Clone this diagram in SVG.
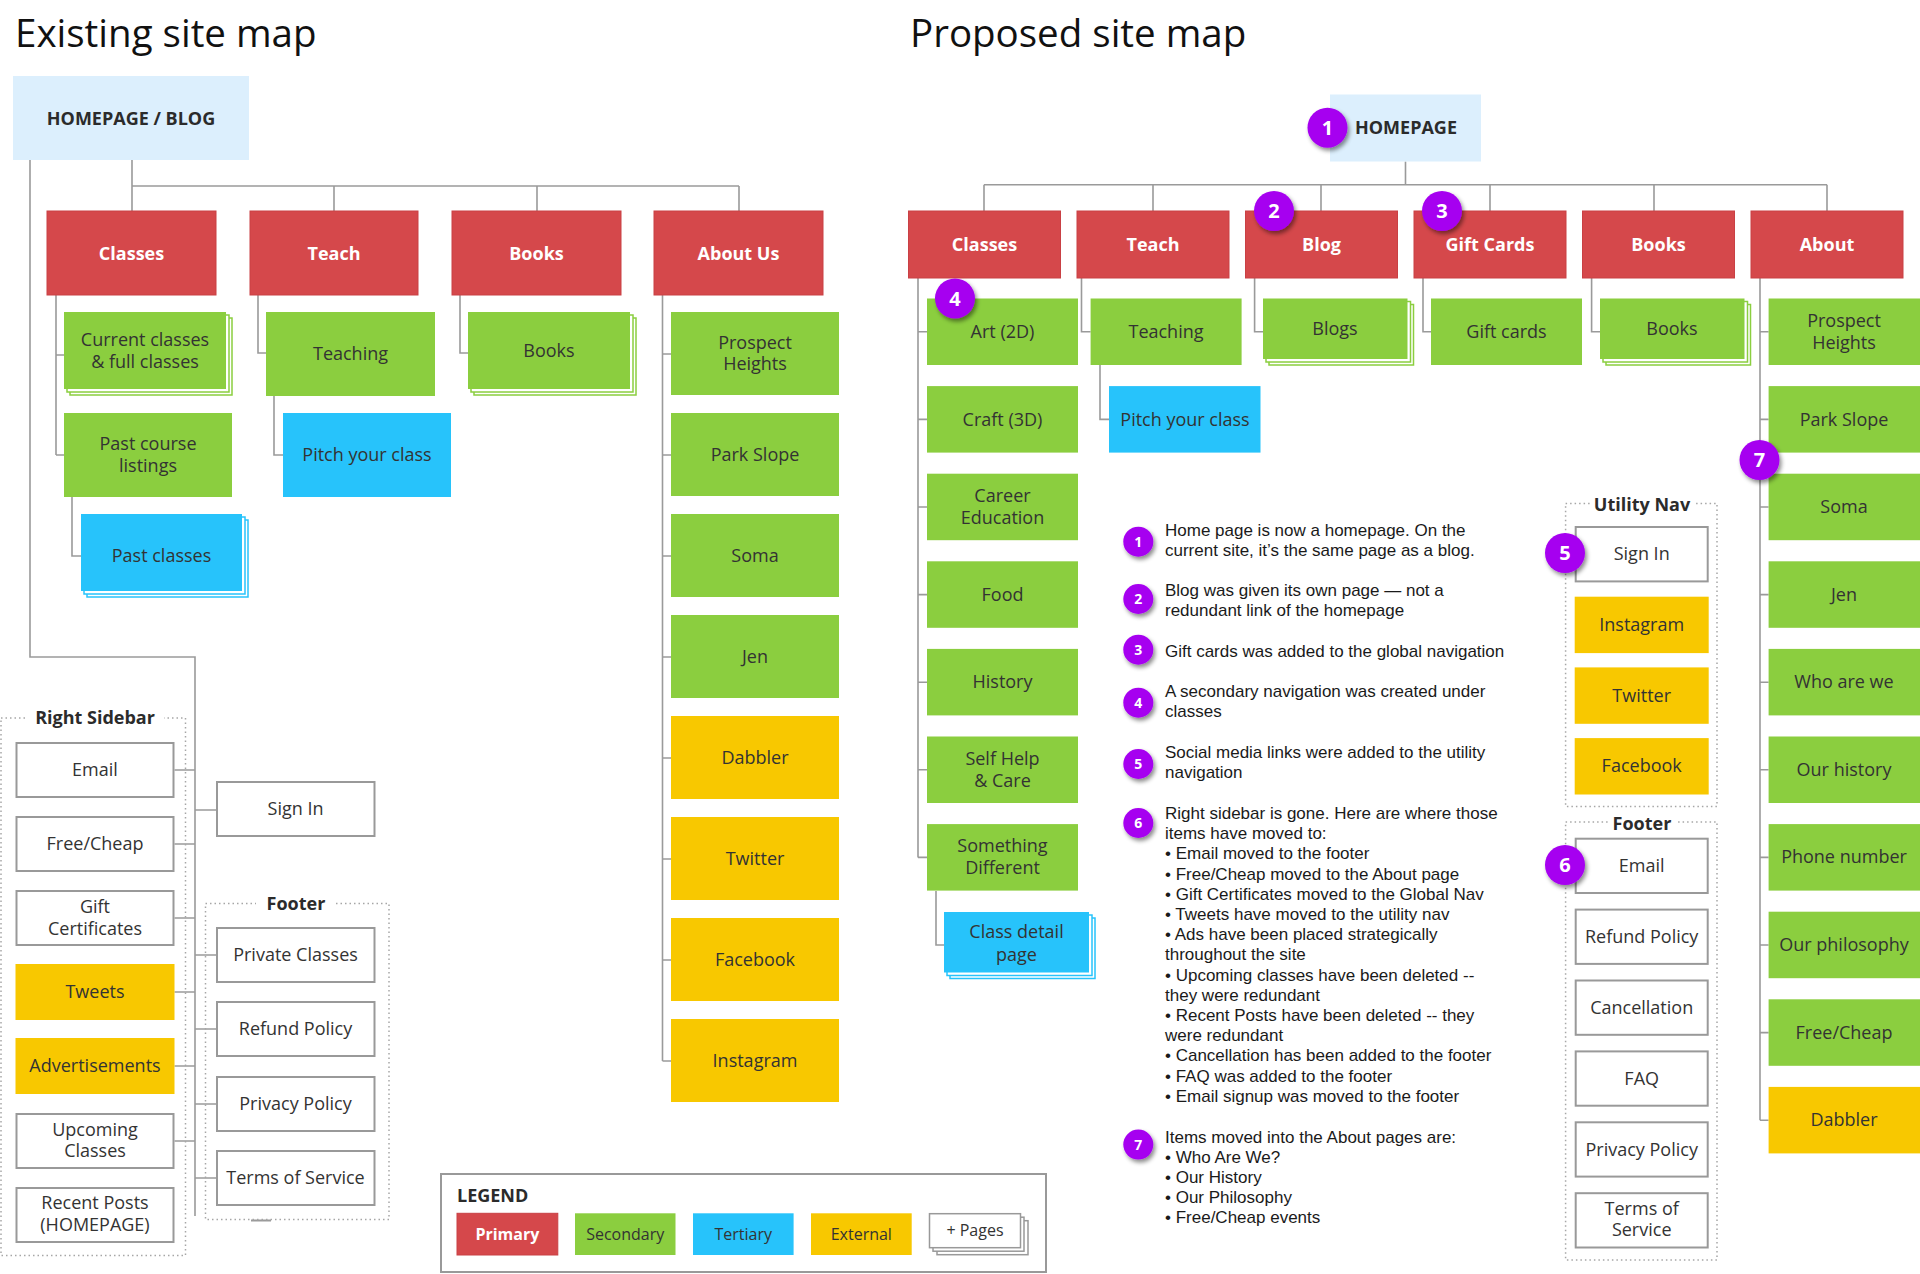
<svg xmlns="http://www.w3.org/2000/svg" width="1920" height="1274" viewBox="0 0 1920 1274">
<defs>
<style>
.ln{fill:none;stroke:#9a9a9a;stroke-width:1.6}
.dot{fill:none;stroke:#a6a6a6;stroke-width:1.5;stroke-dasharray:1.5 3}
.pri{fill:#D5484B;stroke:#c94044;stroke-width:1}
.sec{fill:#8BCE3F}
.ter{fill:#27C3FB}
.ext{fill:#F8C800}
.wht{fill:#fff;stroke:#999;stroke-width:2}
.hp{fill:#DCEFFD}
.bs{fill:#fff;stroke:#8BCE3F;stroke-width:1.5}
.bt{fill:#fff;stroke:#27C3FB;stroke-width:1.5}
.bw{fill:#fff;stroke:#999;stroke-width:1.5}
.t{font-family:'Open Sans','DejaVu Sans',sans-serif;font-size:18px;fill:#333;text-anchor:middle}
.tb{font-family:'Open Sans','DejaVu Sans',sans-serif;font-size:18px;fill:#2b2b2b;font-weight:700;text-anchor:middle}
.tw{font-family:'Open Sans','DejaVu Sans',sans-serif;font-size:18px;fill:#fff;font-weight:700;text-anchor:middle}
.lg{font-family:'Open Sans','DejaVu Sans',sans-serif;font-size:16px;fill:#333;text-anchor:middle}
.lgw{font-family:'Open Sans','DejaVu Sans',sans-serif;font-size:16px;fill:#fff;font-weight:700;text-anchor:middle}
.title{font-family:'Open Sans','DejaVu Sans',sans-serif;font-size:38.5px;fill:#111}
.note{font-family:'Liberation Sans',Arial,sans-serif;font-size:17px;fill:#1a1a1a}
.bg circle{fill:#A600F0}
.bgn{font-family:'Open Sans','DejaVu Sans',sans-serif;font-size:20px;font-weight:700;fill:#fff;text-anchor:middle}
.bgs{font-family:'Open Sans','DejaVu Sans',sans-serif;font-size:14px;font-weight:700;fill:#fff;text-anchor:middle}
</style>
<filter id="sh" x="-50%" y="-50%" width="200%" height="200%">
<feDropShadow dx="2" dy="3" stdDeviation="2" flood-color="#000" flood-opacity="0.45"/>
</filter>
</defs>
<rect width="1920" height="1274" fill="#fff"/>

<text class="title" x="15" y="47">Existing site map</text>
<text class="title" x="910" y="47">Proposed site map</text>

<!-- ================= CONNECTORS ================= -->
<g id="connectors">
<!-- existing -->
<path class="ln" d="M132 160V186M132 186H739M132 186V211M334 186V211M537 186V211M739 186V211"/>
<path class="ln" d="M30 160V657H195V1216"/>
<path class="ln" d="M56 295V455M56 355H64M56 455H64M72 497V556H81"/>
<path class="ln" d="M258 295V353H266M274 396V455H283"/>
<path class="ln" d="M460 295V353H468"/>
<path class="ln" d="M662.5 295V1061M662.5 354H671M662.5 455H671M662.5 556H671M662.5 657H671M662.5 758H671M662.5 859H671M662.5 960H671M662.5 1061H671"/>
<path class="ln" d="M174.5 770H195M174.5 844H195M174.5 918H195M174.5 992H195M174.5 1066H195M174.5 1141H195"/>
<path class="ln" d="M195 810H216M195 955H216M195 1029H216M195 1104H216M195 1178H216"/>
<path d="M251 1220.5H271" stroke="#9a9a9a" stroke-width="2"/>
<!-- proposed -->
<path class="ln" d="M1405.5 161.5V184.7M984 184.7H1827M984 184.7V211M1153 184.7V211M1321 184.7V211M1490 184.7V211M1654 184.7V211M1827 184.7V211"/>
<path class="ln" d="M918 278V857.4M918 331.8H927M918 419.4H927M918 507H927M918 594.6H927M918 682.2H927M918 769.8H927M918 857.4H927"/>
<path class="ln" d="M936 891V945H944"/>
<path class="ln" d="M1081.5 278V331.8H1090.6M1100 365V419.4H1109"/>
<path class="ln" d="M1254.6 278V331.8H1263"/>
<path class="ln" d="M1423 278V331.8H1431"/>
<path class="ln" d="M1591.6 278V331.8H1600"/>
<path class="ln" d="M1760 278V1120.2M1760 331.8H1768.6M1760 419.4H1768.6M1760 507H1768.6M1760 594.6H1768.6M1760 682.2H1768.6M1760 769.8H1768.6M1760 857.4H1768.6M1760 945H1768.6M1760 1032.6H1768.6M1760 1120.2H1768.6"/>
</g>

<!-- ================= EXISTING ================= -->
<g id="ex-home"><rect class="hp" x="13" y="76" width="236" height="84"/><text class="tb" x="131" y="124.5">HOMEPAGE / BLOG</text></g>

<g id="ex-classes"><rect class="pri" x="47" y="211" width="169" height="84"/><text class="tw" x="131.5" y="259.5">Classes</text></g>
<g id="ex-teach"><rect class="pri" x="250" y="211" width="168" height="84"/><text class="tw" x="334" y="259.5">Teach</text></g>
<g id="ex-books"><rect class="pri" x="452" y="211" width="169" height="84"/><text class="tw" x="536.5" y="259.5">Books</text></g>
<g id="ex-about"><rect class="pri" x="654" y="211" width="169" height="84"/><text class="tw" x="738.5" y="259.5">About Us</text></g>

<g id="ex-current"><rect class="bs" x="70" y="318" width="162" height="77"/><rect class="bs" x="67" y="315" width="162" height="77"/><rect class="sec" x="64" y="312" width="162" height="77"/><text class="t" x="145" y="345.5">Current classes</text><text class="t" x="145" y="367.5">&amp; full classes</text></g>
<g id="ex-pastcourse"><rect class="sec" x="64" y="413" width="168" height="84"/><text class="t" x="148" y="450">Past course</text><text class="t" x="148" y="471.5">listings</text></g>
<g id="ex-pastclasses"><rect class="bt" x="87" y="520" width="161" height="77"/><rect class="bt" x="84" y="517" width="161" height="77"/><rect class="ter" x="81" y="514" width="161" height="77"/><text class="t" x="161.5" y="562">Past classes</text></g>

<g id="ex-teaching"><rect class="sec" x="266" y="312" width="169" height="84"/><text class="t" x="350.5" y="360">Teaching</text></g>
<g id="ex-pitch"><rect class="ter" x="283" y="413" width="168" height="84"/><text class="t" x="367" y="461">Pitch your class</text></g>

<g id="ex-books2"><rect class="bs" x="474" y="318" width="162" height="77"/><rect class="bs" x="471" y="315" width="162" height="77"/><rect class="sec" x="468" y="312" width="162" height="77"/><text class="t" x="549" y="357">Books</text></g>

<g id="ex-prospect"><rect class="sec" x="671" y="312" width="168" height="83"/><text class="t" x="755" y="348.5">Prospect</text><text class="t" x="755" y="370">Heights</text></g>
<g id="ex-park"><rect class="sec" x="671" y="413" width="168" height="83"/><text class="t" x="755" y="460.5">Park Slope</text></g>
<g id="ex-soma"><rect class="sec" x="671" y="514" width="168" height="83"/><text class="t" x="755" y="561.5">Soma</text></g>
<g id="ex-jen"><rect class="sec" x="671" y="615" width="168" height="83"/><text class="t" x="755" y="662.5">Jen</text></g>
<g id="ex-dabbler"><rect class="ext" x="671" y="716" width="168" height="83"/><text class="t" x="755" y="763.5">Dabbler</text></g>
<g id="ex-twitter"><rect class="ext" x="671" y="817" width="168" height="83"/><text class="t" x="755" y="864.5">Twitter</text></g>
<g id="ex-facebook"><rect class="ext" x="671" y="918" width="168" height="83"/><text class="t" x="755" y="965.5">Facebook</text></g>
<g id="ex-instagram"><rect class="ext" x="671" y="1019" width="168" height="83"/><text class="t" x="755" y="1066.5">Instagram</text></g>

<g id="ex-sidebar">
<rect class="dot" x="1" y="718" width="184.5" height="537.5"/>
<rect x="26" y="706" width="138" height="24" fill="#fff"/>
<text class="tb" x="95" y="723.5">Right Sidebar</text>
</g>
<g id="ex-email"><rect class="wht" x="16.5" y="743" width="157" height="54"/><text class="t" x="95" y="776">Email</text></g>
<g id="ex-free"><rect class="wht" x="16.5" y="817" width="157" height="54"/><text class="t" x="95" y="850">Free/Cheap</text></g>
<g id="ex-gift"><rect class="wht" x="16.5" y="891" width="157" height="54"/><text class="t" x="95" y="913">Gift</text><text class="t" x="95" y="934.5">Certificates</text></g>
<g id="ex-tweets"><rect class="ext" x="15.5" y="964" width="159" height="56"/><text class="t" x="95" y="998">Tweets</text></g>
<g id="ex-ads"><rect class="ext" x="15.5" y="1038" width="159" height="56"/><text class="t" x="95" y="1072">Advertisements</text></g>
<g id="ex-upcoming"><rect class="wht" x="16.5" y="1114" width="157" height="54"/><text class="t" x="95" y="1135.5">Upcoming</text><text class="t" x="95" y="1157">Classes</text></g>
<g id="ex-recent"><rect class="wht" x="16.5" y="1188" width="157" height="54"/><text class="t" x="95" y="1209">Recent Posts</text><text class="t" x="95" y="1230.5">(HOMEPAGE)</text></g>

<g id="ex-signin"><rect class="wht" x="217" y="782" width="157.5" height="54"/><text class="t" x="295.5" y="815">Sign In</text></g>

<g id="ex-footer">
<rect class="dot" x="205.5" y="903.5" width="183.5" height="316"/>
<rect x="256" y="892" width="80" height="24" fill="#fff"/>
<text class="tb" x="296" y="909.5">Footer</text>
</g>
<g id="ex-private"><rect class="wht" x="217" y="928" width="157.5" height="54"/><text class="t" x="295.5" y="961">Private Classes</text></g>
<g id="ex-refund"><rect class="wht" x="217" y="1002" width="157.5" height="54"/><text class="t" x="295.5" y="1035">Refund Policy</text></g>
<g id="ex-privacy"><rect class="wht" x="217" y="1077" width="157.5" height="54"/><text class="t" x="295.5" y="1110">Privacy Policy</text></g>
<g id="ex-terms"><rect class="wht" x="217" y="1151" width="157.5" height="54"/><text class="t" x="295.5" y="1184">Terms of Service</text></g>

<!-- ================= LEGEND ================= -->
<g id="legend">
<rect x="441" y="1174" width="605" height="98" fill="#fff" stroke="#999" stroke-width="2"/>
<text class="tb" x="457" y="1201.5" style="text-anchor:start">LEGEND</text>
<rect class="pri" x="457" y="1213.3" width="100.8" height="41.7"/><text class="lgw" x="507.4" y="1240">Primary</text>
<rect class="sec" x="575" y="1213.3" width="100.5" height="41.7"/><text class="lg" x="625.2" y="1240">Secondary</text>
<rect class="ter" x="693" y="1213.3" width="100.6" height="41.7"/><text class="lg" x="743.3" y="1240">Tertiary</text>
<rect class="ext" x="811" y="1213.3" width="100.7" height="41.7"/><text class="lg" x="861.3" y="1240">External</text>
<rect class="bw" x="937" y="1220.7" width="91" height="34"/>
<rect class="bw" x="933" y="1217.2" width="91" height="34"/>
<rect class="bw" x="929.5" y="1213.7" width="91" height="34"/>
<text class="lg" x="975" y="1236">+ Pages</text>
</g>

<!-- ================= PROPOSED ================= -->
<g id="pr-home"><rect class="hp" x="1330" y="94.5" width="151" height="67"/><text class="tb" x="1406" y="134">HOMEPAGE</text></g>

<g id="pr-classes"><rect class="pri" x="908.5" y="211" width="152" height="67"/><text class="tw" x="984.5" y="251">Classes</text></g>
<g id="pr-teach"><rect class="pri" x="1077" y="211" width="152" height="67"/><text class="tw" x="1153" y="251">Teach</text></g>
<g id="pr-blog"><rect class="pri" x="1245.5" y="211" width="152" height="67"/><text class="tw" x="1321.5" y="251">Blog</text></g>
<g id="pr-gift"><rect class="pri" x="1414" y="211" width="152" height="67"/><text class="tw" x="1490" y="251">Gift Cards</text></g>
<g id="pr-books"><rect class="pri" x="1582.5" y="211" width="152" height="67"/><text class="tw" x="1658.5" y="251">Books</text></g>
<g id="pr-about"><rect class="pri" x="1751" y="211" width="152" height="67"/><text class="tw" x="1827" y="251">About</text></g>

<g id="pr-art"><rect class="sec" x="927" y="298.5" width="151" height="66.5"/><text class="t" x="1002.5" y="338">Art (2D)</text></g>
<g id="pr-craft"><rect class="sec" x="927" y="386.1" width="151" height="66.5"/><text class="t" x="1002.5" y="425.5">Craft (3D)</text></g>
<g id="pr-career"><rect class="sec" x="927" y="473.7" width="151" height="66.5"/><text class="t" x="1002.5" y="502">Career</text><text class="t" x="1002.5" y="524">Education</text></g>
<g id="pr-food"><rect class="sec" x="927" y="561.3" width="151" height="66.5"/><text class="t" x="1002.5" y="600.5">Food</text></g>
<g id="pr-history"><rect class="sec" x="927" y="648.9" width="151" height="66.5"/><text class="t" x="1002.5" y="688">History</text></g>
<g id="pr-selfhelp"><rect class="sec" x="927" y="736.5" width="151" height="66.5"/><text class="t" x="1002.5" y="764.8">Self Help</text><text class="t" x="1002.5" y="786.8">&amp; Care</text></g>
<g id="pr-something"><rect class="sec" x="927" y="824.1" width="151" height="66.5"/><text class="t" x="1002.5" y="852.4">Something</text><text class="t" x="1002.5" y="874.4">Different</text></g>
<g id="pr-classdetail"><rect class="bt" x="950" y="918" width="145" height="60.5"/><rect class="bt" x="947" y="915" width="145" height="60.5"/><rect class="ter" x="944" y="912" width="145" height="60.5"/><text class="t" x="1016.5" y="938">Class detail</text><text class="t" x="1016.5" y="961">page</text></g>

<g id="pr-teaching"><rect class="sec" x="1090.6" y="298.5" width="151" height="66.5"/><text class="t" x="1166" y="338">Teaching</text></g>
<g id="pr-pitch"><rect class="ter" x="1109" y="386.1" width="151.5" height="66.5"/><text class="t" x="1185" y="425.5">Pitch your class</text></g>

<g id="pr-blogs"><rect class="bs" x="1269" y="304.5" width="144.5" height="60.5"/><rect class="bs" x="1266" y="301.5" width="144.5" height="60.5"/><rect class="sec" x="1263" y="298.5" width="144.5" height="60.5"/><text class="t" x="1335" y="335">Blogs</text></g>
<g id="pr-giftcards"><rect class="sec" x="1431" y="298.5" width="151" height="66.5"/><text class="t" x="1506.5" y="338">Gift cards</text></g>
<g id="pr-books2"><rect class="bs" x="1606" y="304.5" width="144.5" height="60.5"/><rect class="bs" x="1603" y="301.5" width="144.5" height="60.5"/><rect class="sec" x="1600" y="298.5" width="144.5" height="60.5"/><text class="t" x="1672" y="335">Books</text></g>

<g id="pr-prospect"><rect class="sec" x="1768.6" y="298.5" width="151.4" height="66.5"/><text class="t" x="1844" y="326.8">Prospect</text><text class="t" x="1844" y="348.8">Heights</text></g>
<g id="pr-park"><rect class="sec" x="1768.6" y="386.1" width="151.4" height="66.5"/><text class="t" x="1844" y="425.5">Park Slope</text></g>
<g id="pr-soma"><rect class="sec" x="1768.6" y="473.7" width="151.4" height="66.5"/><text class="t" x="1844" y="513">Soma</text></g>
<g id="pr-jen"><rect class="sec" x="1768.6" y="561.3" width="151.4" height="66.5"/><text class="t" x="1844" y="600.5">Jen</text></g>
<g id="pr-who"><rect class="sec" x="1768.6" y="648.9" width="151.4" height="66.5"/><text class="t" x="1844" y="688">Who are we</text></g>
<g id="pr-ourhistory"><rect class="sec" x="1768.6" y="736.5" width="151.4" height="66.5"/><text class="t" x="1844" y="775.8">Our history</text></g>
<g id="pr-phone"><rect class="sec" x="1768.6" y="824.1" width="151.4" height="66.5"/><text class="t" x="1844" y="863.4">Phone number</text></g>
<g id="pr-philosophy"><rect class="sec" x="1768.6" y="911.7" width="151.4" height="66.5"/><text class="t" x="1844" y="951">Our philosophy</text></g>
<g id="pr-freecheap"><rect class="sec" x="1768.6" y="999.3" width="151.4" height="66.5"/><text class="t" x="1844" y="1038.5">Free/Cheap</text></g>
<g id="pr-dabbler"><rect class="ext" x="1768.6" y="1086.9" width="151.4" height="66.5"/><text class="t" x="1844" y="1126">Dabbler</text></g>

<g id="pr-utility">
<rect class="dot" x="1565.6" y="503.4" width="151.4" height="303"/>
<rect x="1590" y="492" width="104" height="24" fill="#fff"/>
<text class="tb" x="1642" y="510.5">Utility Nav</text>
</g>
<g id="pr-signin"><rect class="wht" x="1575.7" y="527" width="132" height="54.4"/><text class="t" x="1641.7" y="560.2">Sign In</text></g>
<g id="pr-instagram"><rect class="ext" x="1574.7" y="596.7" width="134" height="56.4"/><text class="t" x="1641.7" y="630.9">Instagram</text></g>
<g id="pr-twitter"><rect class="ext" x="1574.7" y="667.4" width="134" height="56.4"/><text class="t" x="1641.7" y="701.6">Twitter</text></g>
<g id="pr-facebook"><rect class="ext" x="1574.7" y="738.1" width="134" height="56.4"/><text class="t" x="1641.7" y="772.3">Facebook</text></g>

<g id="pr-footer">
<rect class="dot" x="1565.6" y="822" width="151.4" height="438"/>
<rect x="1608" y="810" width="68" height="24" fill="#fff"/>
<text class="tb" x="1642" y="829.5">Footer</text>
</g>
<g id="pr-email"><rect class="wht" x="1575.7" y="838.7" width="132" height="54.3"/><text class="t" x="1641.7" y="871.9">Email</text></g>
<g id="pr-refund"><rect class="wht" x="1575.7" y="909.6" width="132" height="54.3"/><text class="t" x="1641.7" y="942.8">Refund Policy</text></g>
<g id="pr-cancel"><rect class="wht" x="1575.7" y="980.5" width="132" height="54.3"/><text class="t" x="1641.7" y="1013.7">Cancellation</text></g>
<g id="pr-faq"><rect class="wht" x="1575.7" y="1051.4" width="132" height="54.3"/><text class="t" x="1641.7" y="1084.6">FAQ</text></g>
<g id="pr-privacy"><rect class="wht" x="1575.7" y="1122.3" width="132" height="54.3"/><text class="t" x="1641.7" y="1155.5">Privacy Policy</text></g>
<g id="pr-terms"><rect class="wht" x="1575.7" y="1193.2" width="132" height="54.3"/><text class="t" x="1641.7" y="1215">Terms of</text><text class="t" x="1641.7" y="1236">Service</text></g>

<!-- badges on diagram -->
<g id="badge-1" class="bg"><circle cx="1327.5" cy="127.7" r="20" filter="url(#sh)"/><text class="bgn" x="1327.5" y="134.7">1</text></g>
<g id="badge-2" class="bg"><circle cx="1274" cy="211" r="20" filter="url(#sh)"/><text class="bgn" x="1274" y="218">2</text></g>
<g id="badge-3" class="bg"><circle cx="1442" cy="211" r="20" filter="url(#sh)"/><text class="bgn" x="1442" y="218">3</text></g>
<g id="badge-4" class="bg"><circle cx="955" cy="298.5" r="20" filter="url(#sh)"/><text class="bgn" x="955" y="305.5">4</text></g>
<g id="badge-5" class="bg"><circle cx="1565" cy="553" r="20" filter="url(#sh)"/><text class="bgn" x="1565" y="560">5</text></g>
<g id="badge-6" class="bg"><circle cx="1565" cy="865" r="20" filter="url(#sh)"/><text class="bgn" x="1565" y="872">6</text></g>
<g id="badge-7" class="bg"><circle cx="1759.5" cy="460" r="20" filter="url(#sh)"/><text class="bgn" x="1759.5" y="467">7</text></g>

<!-- ================= NOTES ================= -->
<g id="note-1"><g class="bg"><circle cx="1138.3" cy="541.7" r="15" filter="url(#sh)"/><text class="bgs" x="1138.3" y="546.7">1</text></g>
<text class="note" x="1165" y="536">Home page is now a homepage. On the</text>
<text class="note" x="1165" y="556">current site, it’s the same page as a blog.</text></g>
<g id="note-2"><g class="bg"><circle cx="1138.3" cy="599" r="15" filter="url(#sh)"/><text class="bgs" x="1138.3" y="604">2</text></g>
<text class="note" x="1165" y="596">Blog was given its own page — not a</text>
<text class="note" x="1165" y="616">redundant link of the homepage</text></g>
<g id="note-3"><g class="bg"><circle cx="1138.3" cy="649.7" r="15" filter="url(#sh)"/><text class="bgs" x="1138.3" y="654.7">3</text></g>
<text class="note" x="1165" y="656.7">Gift cards was added to the global navigation</text></g>
<g id="note-4"><g class="bg"><circle cx="1138.3" cy="702.7" r="15" filter="url(#sh)"/><text class="bgs" x="1138.3" y="707.7">4</text></g>
<text class="note" x="1165" y="696.7">A secondary navigation was created under</text>
<text class="note" x="1165" y="716.7">classes</text></g>
<g id="note-5"><g class="bg"><circle cx="1138.3" cy="764" r="15" filter="url(#sh)"/><text class="bgs" x="1138.3" y="769">5</text></g>
<text class="note" x="1165" y="758">Social media links were added to the utility</text>
<text class="note" x="1165" y="778.3">navigation</text></g>
<g id="note-6"><g class="bg"><circle cx="1138.3" cy="823" r="15" filter="url(#sh)"/><text class="bgs" x="1138.3" y="828">6</text></g>
<text class="note" x="1165" y="819">Right sidebar is gone. Here are where those</text>
<text class="note" x="1165" y="839.2">items have moved to:</text>
<text class="note" x="1165" y="859.4">• Email moved to the footer</text>
<text class="note" x="1165" y="879.6">• Free/Cheap moved to the About page</text>
<text class="note" x="1165" y="899.8">• Gift Certificates moved to the Global Nav</text>
<text class="note" x="1165" y="920">• Tweets have moved to the utility nav</text>
<text class="note" x="1165" y="940.2">• Ads have been placed strategically</text>
<text class="note" x="1165" y="960.4">throughout the site</text>
<text class="note" x="1165" y="980.6">• Upcoming classes have been deleted --</text>
<text class="note" x="1165" y="1000.8">they were redundant</text>
<text class="note" x="1165" y="1021">• Recent Posts have been deleted -- they</text>
<text class="note" x="1165" y="1041.2">were redundant</text>
<text class="note" x="1165" y="1061.4">• Cancellation has been added to the footer</text>
<text class="note" x="1165" y="1081.6">• FAQ was added to the footer</text>
<text class="note" x="1165" y="1101.8">• Email signup was moved to the footer</text></g>
<g id="note-7"><g class="bg"><circle cx="1138.3" cy="1144.6" r="15" filter="url(#sh)"/><text class="bgs" x="1138.3" y="1149.6">7</text></g>
<text class="note" x="1165" y="1142.5">Items moved into the About pages are:</text>
<text class="note" x="1165" y="1162.7">• Who Are We?</text>
<text class="note" x="1165" y="1182.9">• Our History</text>
<text class="note" x="1165" y="1203.1">• Our Philosophy</text>
<text class="note" x="1165" y="1223.3">• Free/Cheap events</text></g>
</svg>
